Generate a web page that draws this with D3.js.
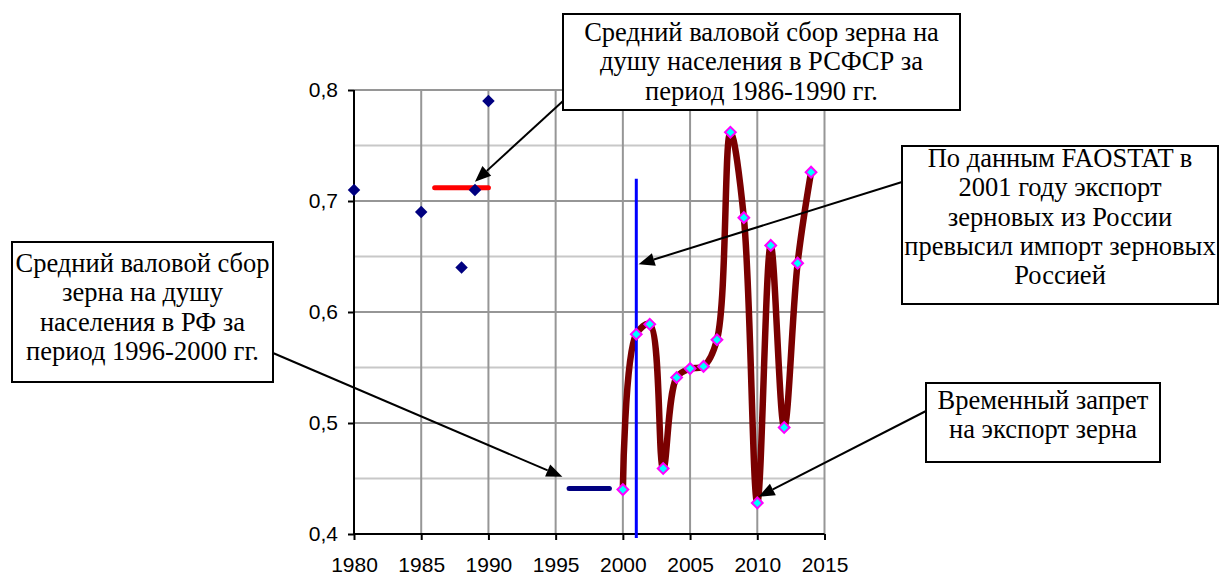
<!DOCTYPE html>
<html>
<head>
<meta charset="utf-8">
<script src="https://cdn.jsdelivr.net/npm/d3@7"></script>
<style>
  body { margin: 0; background: #fff; }
  svg { display: block; }
</style>
</head>
<body>
<div class="canvas"></div>
<script>
// data
const ussrYears = [1980, 1985, 1988, 1989, 1990]
const ussrValues = [0.71, 0.69, 0.64, 0.71, 0.79]

const rfYears = [2000, 2001, 2002, 2003, 2004, 2005, 2006, 2007, 2008, 2009, 2010, 2011, 2012, 2013, 2014]
const rfValues = [0.44, 0.58, 0.589, 0.459, 0.541, 0.549, 0.551, 0.575, 0.762, 0.685, 0.428, 0.66, 0.496, 0.644, 0.726]

const avgUssr = { from: 1986, to: 1990, value: 0.712 }
const avgRf = { from: 1996, to: 1999, value: 0.441 }
const exportYear = 2001
const exportTop = 0.72

const xTicks = [1980, 1985, 1990, 1995, 2000, 2005, 2010, 2015]
const yMajor = [0.4, 0.5, 0.6, 0.7, 0.8]
const yMinor = [0.45, 0.55, 0.65, 0.75]

const noteTexts = [
  ['Средний валовой сбор зерна на', 'душу населения в РСФСР за', 'период 1986-1990 гг.'],
  ['Средний валовой сбор', 'зерна на душу', 'населения в РФ за', 'период 1996-2000 гг.'],
  ['По данным FAOSTAT в', '2001 году экспорт', 'зерновых из России', 'превысил импорт зерновых', 'Россией'],
  ['Временный запрет', 'на экспорт зерна']
]
// where each arrow points, in data units [year, value]
const noteTargets = [[1989, 0.7174], [1995.5, 0.4516], [2001.17, 0.643], [2010.1, 0.4336]]

// callout layout (pixels): box, first text line centre, arrow start
const noteLayout = [
  { box: [563, 14, 960, 110], firstLine: 33, from: [563, 101] },
  { box: [12, 242, 273, 382], firstLine: 264, from: [273, 353] },
  { box: [902, 146, 1218, 304], firstLine: 159, from: [902, 182] },
  { box: [926, 383, 1160, 462], firstLine: 401, from: [926, 411] }
]

const dims = { width: 1219, height: 576 }
const plot = { left: 354, right: 824.5, top: 90, bottom: 534 }

const svg = d3.select('.canvas').append('svg')
  .attr('width', dims.width)
  .attr('height', dims.height)

const x = d3.scaleLinear().domain([1980, 2015]).range([plot.left, plot.right])
const y = d3.scaleLinear().domain([0.4, 0.8]).range([plot.bottom, plot.top])

// gridlines
svg.append('g').selectAll('line')
  .data(yMinor)
  .join('line')
  .attr('x1', plot.left).attr('x2', plot.right)
  .attr('y1', d => y(d)).attr('y2', d => y(d))
  .attr('stroke', '#c8c8c8').attr('stroke-width', 2)

svg.append('g').selectAll('line')
  .data(yMajor.slice(1))
  .join('line')
  .attr('x1', plot.left).attr('x2', plot.right)
  .attr('y1', d => y(d)).attr('y2', d => y(d))
  .attr('stroke', '#969696').attr('stroke-width', 2)

svg.append('g').selectAll('line')
  .data(xTicks.slice(1))
  .join('line')
  .attr('x1', d => x(d)).attr('x2', d => x(d))
  .attr('y1', plot.top).attr('y2', plot.bottom)
  .attr('stroke', '#969696').attr('stroke-width', 2)

// axes
const xAxis = d3.axisBottom(x).tickValues(xTicks).tickSize(6).tickPadding(17).tickFormat(d3.format('d'))
const yAxis = d3.axisLeft(y).tickValues(yMajor).tickSize(6).tickPadding(10).tickFormat(d => d3.format('.1f')(d).replace('.', ','))

const gx = svg.append('g').attr('transform', `translate(0, ${plot.bottom})`).call(xAxis)
const gy = svg.append('g').attr('transform', `translate(${plot.left}, 0)`).call(yAxis)

;[gx, gy].forEach(g => {
  g.select('.domain').attr('stroke', '#000').attr('stroke-width', 2)
  g.selectAll('.tick line').attr('stroke', '#000').attr('stroke-width', 2)
  g.selectAll('.tick text')
    .attr('fill', '#000')
    .style('font-family', '"Liberation Sans", Arial, sans-serif')
    .style('font-size', '21px')
})
gx.select('.domain').attr('d', `M${plot.left},0H${plot.right}`)
gy.select('.domain').attr('d', `M0,${plot.top}V${plot.bottom}`)

// average lines
svg.append('line')
  .attr('x1', x(avgUssr.from)).attr('x2', x(avgUssr.to))
  .attr('y1', y(avgUssr.value)).attr('y2', y(avgUssr.value))
  .attr('stroke', '#ff0000').attr('stroke-width', 5).attr('stroke-linecap', 'round')

svg.append('line')
  .attr('x1', x(avgRf.from)).attr('x2', x(avgRf.to))
  .attr('y1', y(avgRf.value)).attr('y2', y(avgRf.value))
  .attr('stroke', '#000080').attr('stroke-width', 5).attr('stroke-linecap', 'round')

// USSR points
svg.append('g').selectAll('path')
  .data(ussrYears.map((d, i) => [d, ussrValues[i]]))
  .join('path')
  .attr('d', d3.symbol(d3.symbolSquare, 78))
  .attr('transform', d => `translate(${x(d[0])}, ${y(d[1])}) rotate(45)`)
  .attr('fill', '#000080')

// RF smoothed series
const rfData = rfYears.map((d, i) => [d, rfValues[i]])
const line = d3.line()
  .x(d => x(d[0]))
  .y(d => y(d[1]))
  .curve(d3.curveCatmullRom.alpha(0.5))

svg.append('path')
  .datum(rfData)
  .attr('d', line)
  .attr('fill', 'none')
  .attr('stroke', '#7a0000')
  .attr('stroke-width', 6.5)
  .attr('stroke-linejoin', 'round')

// export line 2001
svg.append('line')
  .attr('x1', x(exportYear)).attr('x2', x(exportYear))
  .attr('y1', y(exportTop)).attr('y2', plot.bottom + 4)
  .attr('stroke', '#0000ff').attr('stroke-width', 3)

svg.append('g').selectAll('path')
  .data(rfData)
  .join('path')
  .attr('d', d3.symbol(d3.symbolSquare, 58))
  .attr('transform', d => `translate(${x(d[0])}, ${y(d[1])}) rotate(45)`)
  .attr('fill', '#00ffff')
  .attr('stroke', '#ff00ff')
  .attr('stroke-width', 2)

// callouts
const callouts = svg.append('g')
noteTexts.forEach((lines, k) => {
  const { box, firstLine, from } = noteLayout[k]
  const [x0, y0, x1, y1] = box
  const tx = x(noteTargets[k][0])
  const ty = y(noteTargets[k][1])
  const [sx, sy] = from
  const ang = Math.atan2(ty - sy, tx - sx)
  const len = 16, half = 6.5
  const bx = tx - len * Math.cos(ang)
  const by = ty - len * Math.sin(ang)

  callouts.append('line')
    .attr('x1', sx).attr('y1', sy).attr('x2', bx).attr('y2', by)
    .attr('stroke', '#000').attr('stroke-width', 2)

  callouts.append('path')
    .attr('d', `M${tx},${ty}L${bx + half * Math.sin(ang)},${by - half * Math.cos(ang)}L${bx - half * Math.sin(ang)},${by + half * Math.cos(ang)}Z`)
    .attr('fill', '#000')

  callouts.append('rect')
    .attr('x', x0).attr('y', y0)
    .attr('width', x1 - x0).attr('height', y1 - y0)
    .attr('fill', '#fff')
    .attr('stroke', '#000').attr('stroke-width', 2)

  const lineH = 29.3
  callouts.append('text')
    .attr('text-anchor', 'middle')
    .style('font-family', '"Liberation Serif", "Times New Roman", serif')
    .style('font-size', '26.5px')
    .selectAll('tspan')
    .data(lines)
    .join('tspan')
    .attr('x', (x0 + x1) / 2)
    .attr('y', (d, i) => firstLine + i * lineH + 8)
    .text(d => d)
})
</script>
</body>
</html>
